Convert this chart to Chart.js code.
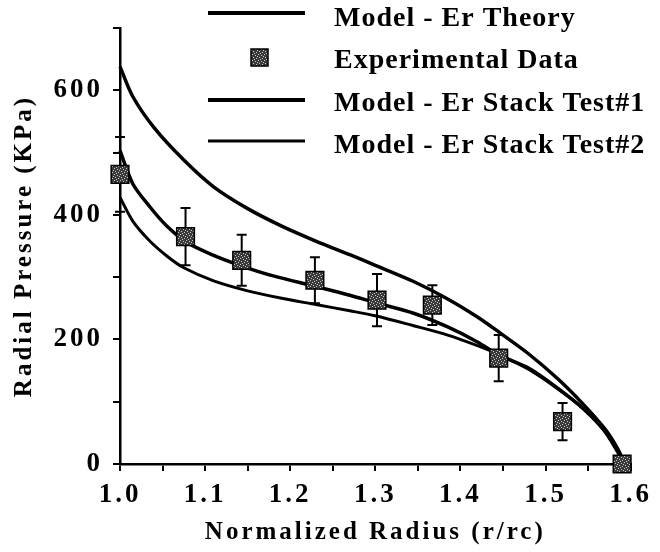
<!DOCTYPE html>
<html>
<head>
<meta charset="utf-8">
<script src="https://cdn.jsdelivr.net/npm/chart.js@4/dist/chart.umd.min.js"></script>
<style>
  html, body { margin: 0; padding: 0; background: #fff; }
  #wrap { width: 660px; height: 552px; }
</style>
</head>
<body>
<div id="wrap"><canvas id="chart" width="660" height="552"></canvas></div>
<script>
const SERIF = "'Liberation Serif', 'Times New Roman', serif";

// Model - Er Theory (upper curve)
const theoryX = [1.0, 1.015, 1.04, 1.075, 1.11, 1.15, 1.19, 1.23, 1.27, 1.30, 1.345, 1.385, 1.42, 1.445, 1.48, 1.515, 1.545, 1.57, 1.585, 1.593];
const theoryY = [638, 590, 540, 488, 445, 410, 382, 358, 336, 319, 293, 265, 236, 212, 177, 136, 95, 56, 24, 0];

// Model - Er Stack Test#1 (middle curve)
const test1X = [1.0, 1.015, 1.035, 1.055, 1.078, 1.11, 1.145, 1.18, 1.23, 1.27, 1.30, 1.345, 1.385, 1.42, 1.445, 1.48, 1.515, 1.545, 1.57, 1.593];
const test1Y = [503, 450, 413, 382, 356, 335, 317, 302, 285, 271, 259, 242, 220, 196, 175, 154, 121, 88, 52, 0];

// Model - Er Stack Test#2 (lower curve)
const test2X = [1.0, 1.015, 1.035, 1.055, 1.075, 1.11, 1.15, 1.19, 1.23, 1.27, 1.30, 1.345, 1.385, 1.42, 1.445, 1.48, 1.515, 1.545, 1.57, 1.585, 1.593];
const test2Y = [428, 390, 358, 334, 315, 294, 278, 266, 256, 246, 238, 222, 207, 190, 176, 152, 120, 88, 52, 20, 0];

// Experimental data with error bars
const expX = [1.0, 1.077, 1.143, 1.229, 1.302, 1.367, 1.445, 1.52, 1.59];
const expY = [465, 365, 327, 295, 263, 255, 170, 68, 0];
const expErr = [60, 46, 41, 37, 42, 32, 37, 30, 0];

const legendLabels = ["Model - Er Theory", "Experimental Data", "Model - Er Stack Test#1", "Model - Er Stack Test#2"];

function toPoints(xs, ys) {
  return xs.map((x, i) => ({ x, y: ys[i] }));
}

function makeStipple() {
  const c = document.createElement("canvas");
  c.width = 6;
  c.height = 6;
  const g = c.getContext("2d");
  g.fillStyle = "#3a3a3a";
  g.fillRect(0, 0, 6, 6);
  g.fillStyle = "#c8c8c8";
  [[0, 0], [3, 1], [1, 3], [4, 4], [5, 2], [2, 5]].forEach(([px, py]) => g.fillRect(px, py, 1, 1));
  return g.createPattern(c, "repeat");
}

const stipple = makeStipple();

// the scanned figure has widely spaced type
const spacing = {
  id: "spacing",
  beforeUpdate(chart) { chart.ctx.letterSpacing = "3px"; },
  beforeDraw(chart) { chart.ctx.letterSpacing = "3px"; },
  afterDraw(chart) { chart.ctx.letterSpacing = "0px"; },
};

const errorBars = {
  id: "errorBars",
  beforeDatasetDraw(chart, args) {
    if (args.index !== 0) return;
    const { ctx, scales } = chart;
    ctx.save();
    ctx.strokeStyle = "#000";
    ctx.lineWidth = 2;
    expX.forEach((x, i) => {
      if (!expErr[i]) return;
      const px = scales.x.getPixelForValue(x);
      const top = scales.y.getPixelForValue(expY[i] + expErr[i]);
      const bot = scales.y.getPixelForValue(expY[i] - expErr[i]);
      ctx.beginPath();
      ctx.moveTo(px, top);
      ctx.lineTo(px, bot);
      ctx.moveTo(px - 5, top);
      ctx.lineTo(px + 5, top);
      ctx.moveTo(px - 5, bot);
      ctx.lineTo(px + 5, bot);
      ctx.stroke();
    });
    ctx.restore();
  },
};

const insideLegend = {
  id: "insideLegend",
  afterDatasetsDraw(chart) {
    const ctx = chart.ctx;
    const rows = [
      { kind: "line", width: 4, lineY: 13, textY: 19 },
      { kind: "box", lineY: 58, textY: 61 },
      { kind: "line", width: 4, lineY: 100, textY: 104 },
      { kind: "line", width: 3, lineY: 141, textY: 146 },
    ];
    ctx.save();
    ctx.letterSpacing = "1px";
    ctx.fillStyle = "#000";
    ctx.strokeStyle = "#000";
    ctx.font = "bold 28px " + SERIF;
    ctx.textBaseline = "middle";
    rows.forEach((row, i) => {
      if (row.kind === "line") {
        ctx.lineWidth = row.width;
        ctx.beginPath();
        ctx.moveTo(208, row.lineY);
        ctx.lineTo(305, row.lineY);
        ctx.stroke();
      } else {
        ctx.fillStyle = stipple;
        ctx.fillRect(251, row.lineY - 9, 17, 17);
        ctx.lineWidth = 1.5;
        ctx.strokeRect(251, row.lineY - 9, 17, 17);
        ctx.fillStyle = "#000";
      }
      ctx.fillText(legendLabels[i], 334, row.textY);
    });
    ctx.restore();
  },
};

function lineSet(label, xs, ys, width) {
  return {
    type: "line",
    label,
    data: toPoints(xs, ys),
    borderColor: "#000",
    borderWidth: width,
    pointRadius: 0,
    tension: 0.3,
    fill: false,
    order: 1,
    clip: false,
  };
}

new Chart(document.getElementById("chart"), {
  type: "scatter",
  data: {
    datasets: [
      {
        type: "scatter",
        label: legendLabels[1],
        data: toPoints(expX, expY),
        pointStyle: "rect",
        pointRadius: 12.5,
        backgroundColor: stipple,
        borderColor: "#000",
        borderWidth: 1.5,
        order: 0,
        clip: false,
      },
      lineSet(legendLabels[0], theoryX, theoryY, 3.5),
      lineSet(legendLabels[2], test1X, test1Y, 3.5),
      lineSet(legendLabels[3], test2X, test2Y, 3),
    ],
  },
  options: {
    responsive: false,
    animation: false,
    layout: { padding: { left: 0, right: 24, top: 28, bottom: 0 } },
    plugins: {
      legend: { display: false },
      tooltip: { enabled: false },
    },
    scales: {
      x: {
        type: "linear",
        min: 1.0,
        max: 1.6,
        afterFit: (scale) => { scale.height = 88; },
        border: { color: "#000", width: 2.5 },
        grid: { drawOnChartArea: false, drawTicks: true, tickLength: 7, color: "#000", lineWidth: 2 },
        ticks: {
          stepSize: 0.05,
          autoSkip: false,
          maxRotation: 0,
          padding: 8,
          color: "#000",
          font: { family: SERIF, size: 27, weight: "bold" },
          callback: (v) => (Math.abs(v * 10 - Math.round(v * 10)) < 1e-6 ? Number(v).toFixed(1) : ""),
        },
        title: {
          display: true,
          text: "Normalized Radius (r/rc)",
          color: "#000",
          font: { family: SERIF, size: 25, weight: "bold" },
          padding: { top: 0, bottom: 4 },
        },
      },
      y: {
        min: 0,
        max: 700,
        afterFit: (scale) => { scale.width = 120; },
        border: { color: "#000", width: 2.5 },
        grid: { drawOnChartArea: false, drawTicks: true, tickLength: 7, color: "#000", lineWidth: 2 },
        ticks: {
          stepSize: 100,
          autoSkip: false,
          padding: 10,
          color: "#000",
          font: { family: SERIF, size: 27, weight: "bold" },
          callback: (v) => (v % 200 === 0 ? String(v) : ""),
        },
        title: {
          display: true,
          text: "Radial Pressure (KPa)",
          color: "#000",
          font: { family: SERIF, size: 25, weight: "bold" },
          padding: { top: 10, bottom: 0 },
        },
      },
    },
  },
  plugins: [spacing, errorBars, insideLegend],
});
</script>
</body>
</html>
